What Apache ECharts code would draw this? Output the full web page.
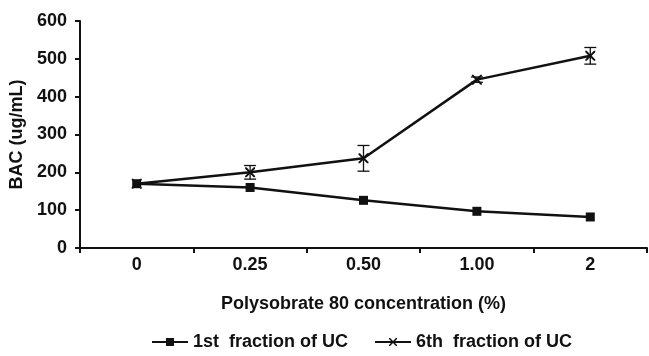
<!DOCTYPE html>
<html>
<head>
	<meta charset="UTF-8">
	<title>BAC vs Polysorbate 80</title>
	<style type="text/css">
		html, body {
			margin: 0;
			padding: 0;
			background: #fff;
		}
		#chart {
			width: 649px;
			height: 356px;
		}
	</style>
</head>
<body>
	<div id="chart"></div>
	<script src="https://cdn.jsdelivr.net/npm/echarts@6/dist/echarts.min.js"></script>
	<script>
		// categories on the x axis
		var concLabels = ['0', '0.25', '0.50', '1.00', '2'];
		// 1st fraction of UC
		var firstFraction = [170, 160, 126, 97, 82];
		// 6th fraction of UC and its error bars (+/-)
		var sixthFraction = [170, 200, 237, 445, 508];
		var sixthError = [0, 18, 34, 7, 22];
		var yTicks = [0, 600, 100];

		var chart = echarts.init(document.getElementById('chart'));
		var font = 'Liberation Sans, Arial, sans-serif';
		var ink = '#111';

		// little x cross used on the 6th fraction line
		var crossPath = 'path://M0,0 L1.4,0 L5,3.6 L8.6,0 L10,0 L10,1.4 L6.4,5 L10,8.6 L10,10 L8.6,10 L5,6.4 L1.4,10 L0,10 L0,8.6 L3.6,5 L0,1.4 Z';

		var errData = [];
		for (var i = 0; i < concLabels.length; i++) {
			errData.push([i, sixthFraction[i] - sixthError[i], sixthFraction[i] + sixthError[i]]);
		}

		function renderErr(params, api) {
			var lo = api.coord([api.value(0), api.value(1)]);
			var hi = api.coord([api.value(0), api.value(2)]);
			if (Math.abs(lo[1] - hi[1]) < 1) return;
			var w = 6;
			var st = { stroke: ink, lineWidth: 1.3 };
			return {
				type: 'group',
				children: [
					{ type: 'line', shape: { x1: lo[0], y1: lo[1], x2: hi[0], y2: hi[1] }, style: st },
					{ type: 'line', shape: { x1: lo[0] - w, y1: lo[1], x2: lo[0] + w, y2: lo[1] }, style: st },
					{ type: 'line', shape: { x1: hi[0] - w, y1: hi[1], x2: hi[0] + w, y2: hi[1] }, style: st }
				]
			};
		}

		var textBold = { fontFamily: font, fontWeight: 'bold', fontSize: 18, color: ink };

		var option = {
			animation: false,
			backgroundColor: '#fff',
			grid: {
				left: 80,
				right: 2,
				top: 21,
				bottom: 108,
				containLabel: false,
				outerBoundsMode: 'none'
			},
			legend: {
				bottom: 0,
				left: 146,
				itemWidth: 36,
				itemHeight: 10,
				itemGap: 26,
				textStyle: textBold,
				data: ['1st  fraction of UC', '6th  fraction of UC']
			},
			xAxis: {
				type: 'category',
				data: concLabels,
				boundaryGap: true,
				name: 'Polysobrate 80 concentration (%)',
				nameLocation: 'middle',
				nameGap: 47,
				nameTextStyle: textBold,
				axisLine: { lineStyle: { color: ink, width: 2 } },
				axisTick: { show: true, length: 5, lineStyle: { color: ink, width: 2 } },
				axisLabel: { fontFamily: font, fontWeight: 'bold', fontSize: 18, color: ink, margin: 8 },
				splitLine: { show: false }
			},
			yAxis: {
				type: 'value',
				min: yTicks[0],
				max: yTicks[1],
				interval: yTicks[2],
				name: 'BAC (ug/mL)',
				nameLocation: 'middle',
				nameGap: 52,
				nameTextStyle: textBold,
				axisLine: { show: true, lineStyle: { color: ink, width: 2 } },
				axisTick: { show: true, length: 5, lineStyle: { color: ink, width: 2 } },
				axisLabel: { fontFamily: font, fontWeight: 'bold', fontSize: 18, color: ink, margin: 13 },
				splitLine: { show: false }
			},
			series: [
				{
					name: '1st  fraction of UC',
					type: 'line',
					data: firstFraction,
					symbol: 'rect',
					symbolSize: 9,
					itemStyle: { color: ink },
					lineStyle: { color: ink, width: 2.5 },
					z: 3
				},
				{
					name: '6th  fraction of UC',
					type: 'line',
					data: sixthFraction,
					symbol: crossPath,
					symbolSize: 10,
					itemStyle: { color: ink },
					lineStyle: { color: ink, width: 2.5 },
					z: 3
				},
				{
					name: 'err',
					type: 'custom',
					data: errData,
					renderItem: renderErr,
					encode: { x: 0, y: [1, 2] },
					z: 4,
					silent: true
				}
			]
		};
		chart.setOption(option);
	</script>
</body>
</html>
